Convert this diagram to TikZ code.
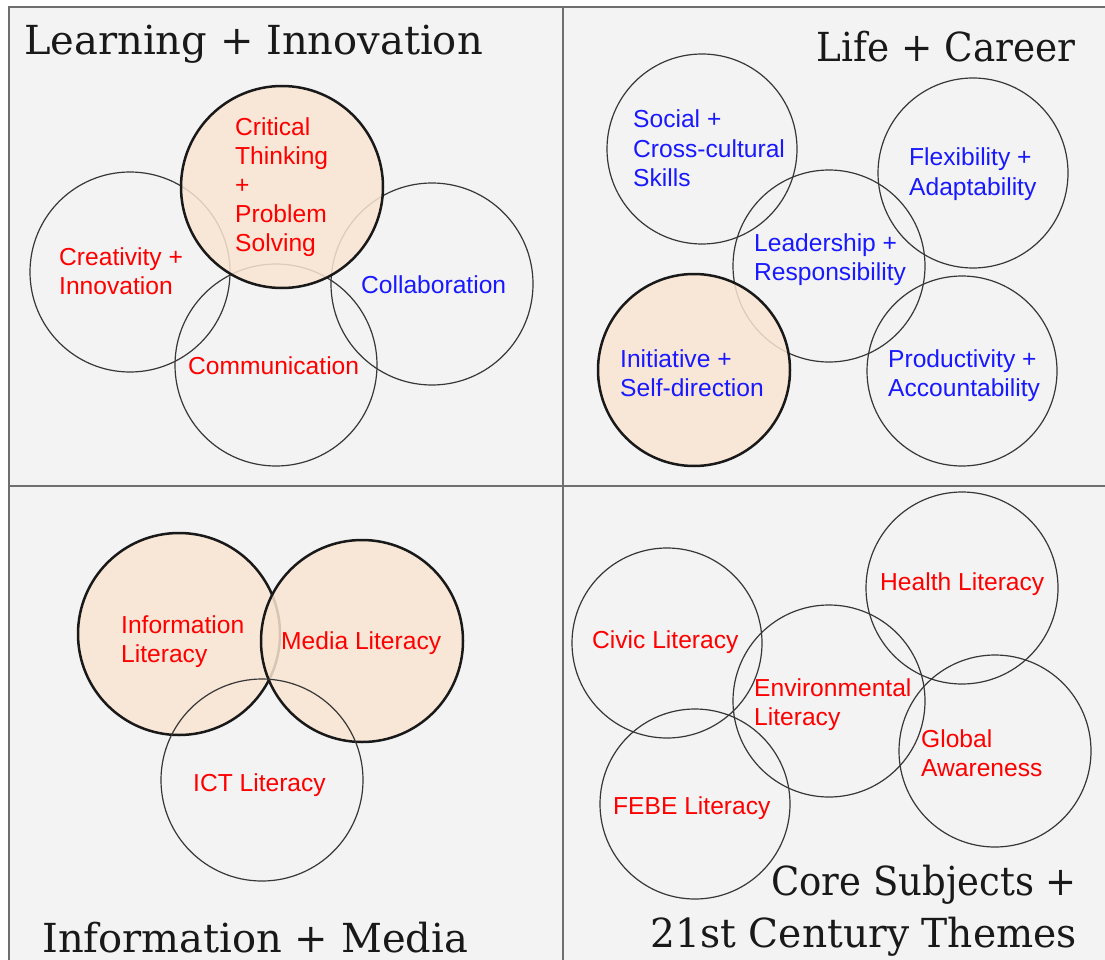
\documentclass[tikz,border=0pt]{standalone}
\usepackage{fontspec}
\setmainfont{Liberation Sans}
\newfontfamily\titlefont{DejaVu Serif}
\definecolor{bgc}{RGB}{243,243,243}
\definecolor{peach}{RGB}{249,229,209}
\definecolor{framec}{RGB}{110,110,110}
\definecolor{ringc}{RGB}{55,55,55}
\definecolor{hotc}{RGB}{25,25,25}
\definecolor{lblred}{RGB}{255,0,0}
\definecolor{lblblue}{RGB}{25,25,255}
\tikzset{
  ring/.style={circle,draw=ringc,line width=1.2pt,inner sep=0pt,minimum size=#1},
  hot/.style={circle,draw=hotc,line width=2.5pt,fill=peach,fill opacity=0.85,draw opacity=1,inner sep=0pt,minimum size=#1},
  lbl/.style={anchor=base west,inner sep=0pt,align=left,font=\fontsize{24.6}{29.2}\selectfont},
  rl/.style={lbl,text=lblred},
  bl/.style={lbl,text=lblblue},
  ttl/.style={inner sep=0pt,font=\titlefont\fontsize{40}{52}\selectfont,text=black!90},
  framel/.style={draw=framec,line width=2pt}
}
\begin{document}
\begin{tikzpicture}[x=1pt,y=-1pt]
\useasboundingbox (0,0) rectangle (1105,960);
\fill[white] (0,0) rectangle (1105,960);
\fill[bgc] (8.5,7.3) rectangle (1105,960);
\draw[framel] (8.5,960) -- (8.5,7.3) -- (1105,7.3);
\draw[framel] (563,7.3) -- (563,960);
\draw[framel] (8.5,486) -- (1105,486);

% Learning + Innovation
\node[ring=200] (ccre) at (130,272) {};
\node[ring=202] (ccol) at (432,284) {};
\node[ring=202] (ccom) at (276,365) {};
\node[hot=202] (cct) at (282,187) {};
\node[rl] (tct) at (235,251.8) {Critical\\Thinking\\+\\Problem\\Solving};
\node[rl] (tcre) at (59,294.2) {Creativity +\\Innovation};
\node[bl] (tcol) at (361,293) {Collaboration};
\node[rl] (tcom) at (188,374) {Communication};
\node[ttl,anchor=base west] (ttl1) at (24,55) {Learning + Innovation};

% Life + Career
\node[ring=190] (csoc) at (702,149) {};
\node[ring=190] (cflx) at (973,173) {};
\node[ring=192] (clea) at (829,266) {};
\node[ring=190] (cpro) at (962,371) {};
\node[hot=192] (cini) at (694,370) {};
\node[bl] (tsoc) at (633,186.4) {Social +\\Cross-cultural\\Skills};
\node[bl] (tflx) at (909,195.2) {Flexibility +\\Adaptability};
\node[bl] (tlea) at (754,280.2) {Leadership +\\Responsibility};
\node[bl] (tini) at (620,396.2) {Initiative +\\Self-direction};
\node[bl] (tpro) at (888,396.2) {Productivity +\\Accountability};
\node[ttl,anchor=base east] (ttl2) at (1076,62) {\scalebox{0.935}[1]{Life + Career}};

% Information + Media
\node[hot=202] (cinf) at (179,634) {};
\node[hot=202] (cmed) at (362,641) {};
\node[ring=202] (cict) at (262,780) {};
\node[rl] (tinf) at (121,662.2) {Information\\Literacy};
\node[rl] (tmed) at (281,649) {Media Literacy};
\node[rl] (tict) at (193,791) {ICT Literacy};
\node[ttl,anchor=base west] (ttl3) at (42,952) {Information + Media};

% Core Subjects + 21st Century Themes
\node[ring=190] (cciv) at (667,643) {};
\node[ring=192] (chea) at (962,588) {};
\node[ring=192] (cenv) at (829,701) {};
\node[ring=192] (cglo) at (995,751) {};
\node[ring=190] (cfeb) at (695,804) {};
\node[rl] (tciv) at (592,648) {Civic Literacy};
\node[rl] (thea) at (880,590) {Health Literacy};
\node[rl] (tenv) at (754,725.2) {Environmental\\Literacy};
\node[rl] (tglo) at (921,776.2) {Global\\Awareness};
\node[rl] (tfeb) at (613,814) {FEBE Literacy};
\node[ttl,anchor=base east] (ttl4) at (1077,895) {\scalebox{0.925}[1]{Core Subjects +}};
\node[ttl,anchor=base east] (ttl5) at (1077,947) {\scalebox{0.98}[1]{21st Century Themes}};
\end{tikzpicture}
\end{document}
